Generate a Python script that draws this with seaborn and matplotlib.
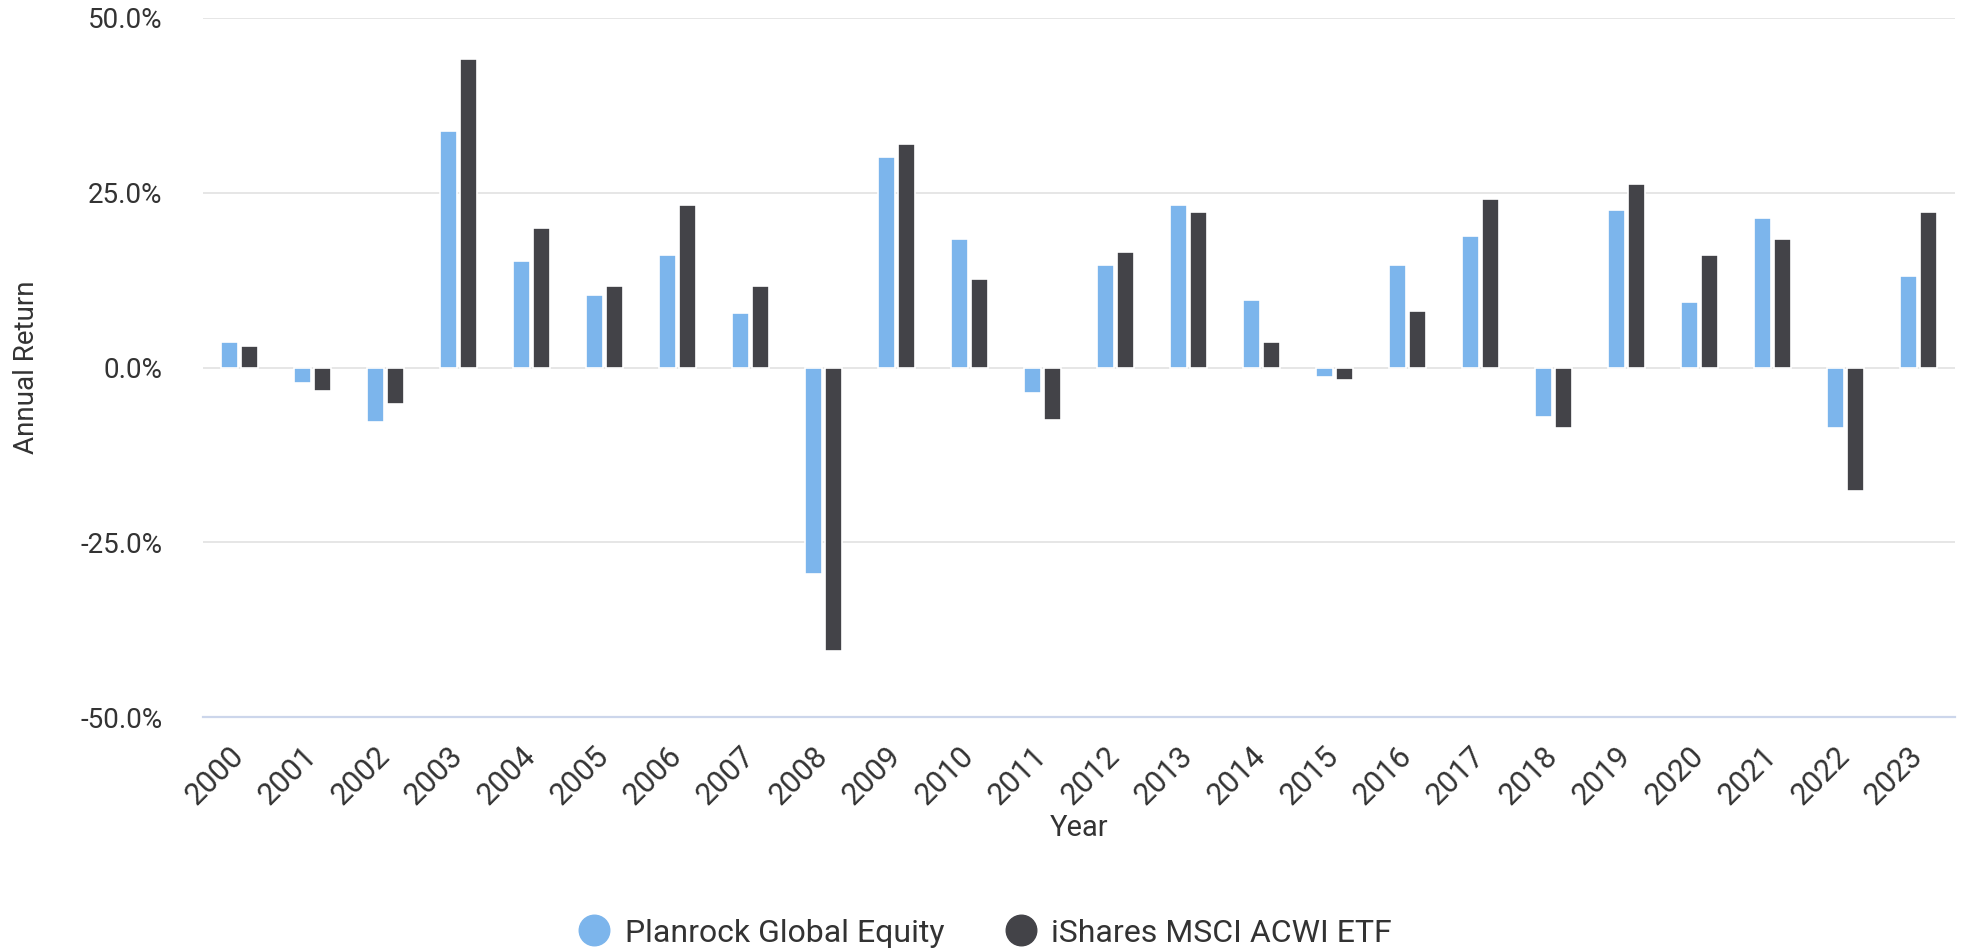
import matplotlib
matplotlib.use("Agg")
import matplotlib.pyplot as plt
from matplotlib.lines import Line2D
from matplotlib.ticker import FuncFormatter, FixedLocator
import seaborn as sns
import pandas as pd

years = [str(y) for y in range(2000, 2024)]
planrock = [3.6, -2.2, -7.8, 33.9, 15.3, 10.4, 16.1, 7.8, -29.5, 30.1, 18.4, -3.6,
            14.6, 23.3, 9.6, -1.4, 14.6, 18.8, -7.1, 22.5, 9.3, 21.4, -8.6, 13.1]
acwi = [3.1, -3.3, -5.2, 44.2, 19.9, 11.6, 23.3, 11.6, -40.5, 32.0, 12.7, -7.5,
        16.5, 22.2, 3.6, -1.8, 8.1, 24.1, -8.6, 26.3, 16.1, 18.4, -17.7, 22.2]
series_names = ["Planrock Global Equity", "iShares MSCI ACWI ETF"]
colors = ["#7cb5ec", "#434348"]
y_ticks = [-50, -25, 0, 25, 50]

df = pd.DataFrame({
    "Year": years * 2,
    "Return": planrock + acwi,
    "Series": [series_names[0]] * len(years) + [series_names[1]] * len(years),
})

sns.set_theme(style="white")
plt.rcParams["font.family"] = ["Roboto", "DejaVu Sans"]
text_color = "#333333"

fig = plt.figure(figsize=(19.63, 9.52), dpi=100)
ax = fig.add_axes([203 / 1963, 1 - 717 / 952, 1752 / 1963, 699 / 952])

sns.barplot(data=df, x="Year", y="Return", hue="Series", palette=colors,
            saturation=1, width=0.553, gap=0.16, edgecolor="white", linewidth=1.2,
            ax=ax, legend=False, zorder=3)

ax.set_ylim(-50, 50)
ax.set_xlim(-0.5, len(years) - 0.5)
ax.yaxis.set_major_locator(FixedLocator(y_ticks))
ax.yaxis.set_major_formatter(FuncFormatter(lambda v, p: f"{v:.1f}%"))
ax.grid(axis="y", color="#e6e6e6", linewidth=1.4, zorder=0)
ax.grid(axis="x", visible=False)
ax.set_axisbelow(True)
for s in ["top", "right", "left"]:
    ax.spines[s].set_visible(False)
ax.spines["bottom"].set_color("#ccd6eb")
ax.spines["bottom"].set_linewidth(1.6)
ax.spines["bottom"].set_position(("data", -50))

ax.tick_params(axis="y", length=0, pad=29, labelsize=20, labelcolor=text_color)
ax.tick_params(axis="x", length=0, pad=25, labelsize=22, labelcolor=text_color)
for lbl in ax.get_xticklabels():
    lbl.set_rotation(45)
    lbl.set_ha("right")
    lbl.set_va("center")
    lbl.set_rotation_mode("anchor")

ax.set_ylabel("Annual Return", fontsize=20, color=text_color)
ax.yaxis.set_label_coords(-(203 - 40) / 1752, 0.5)
ax.set_xlabel("Year", fontsize=21, color=text_color)
ax.xaxis.set_label_coords(0.5, -(814 - 717) / 699)

handles = [Line2D([0], [0], marker="o", linestyle="", markersize=22,
                  markerfacecolor=c, markeredgecolor=c) for c in colors]
fig.legend(handles, series_names, loc="center", bbox_to_anchor=(985 / 1963, 1 - 933 / 952),
           ncol=2, frameon=False, fontsize=23, handletextpad=0.45, columnspacing=1.9,
           labelcolor=text_color, handlelength=1.0)

fig.savefig("out.png", dpi=100)
